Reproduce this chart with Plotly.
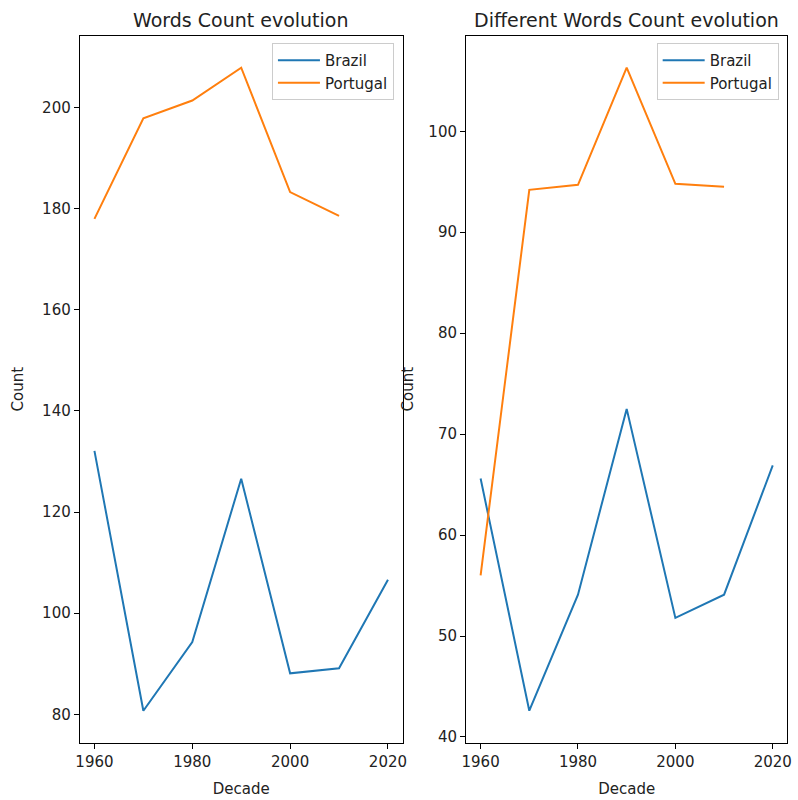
import plotly.graph_objects as go

# Decades on the x axis
decades = [1960, 1970, 1980, 1990, 2000, 2010, 2020]
decades_pt = [1960, 1970, 1980, 1990, 2000, 2010]

# Total words per decade
words_brazil = [132.1, 80.7, 94.3, 126.6, 88.1, 89.1, 106.6]
words_portugal = [178.0, 197.9, 201.4, 207.9, 183.3, 178.6]

# Distinct words per decade
diff_brazil = [65.6, 42.6, 54.1, 72.5, 51.8, 54.1, 66.9]
diff_portugal = [56.0, 94.2, 94.7, 106.3, 94.8, 94.5]

x_ticks = [1960, 1980, 2000, 2020]

BLUE = "#1f77b4"
ORANGE = "#ff7f0e"
FONT = "DejaVu Sans"
TXT = "#222222"

fig = go.Figure()

fig.add_trace(go.Scatter(x=decades, y=words_brazil, mode="lines", name="Brazil",
                         line=dict(color=BLUE, width=2), xaxis="x", yaxis="y",
                         legend="legend"))
fig.add_trace(go.Scatter(x=decades_pt, y=words_portugal, mode="lines", name="Portugal",
                         line=dict(color=ORANGE, width=2), xaxis="x", yaxis="y",
                         legend="legend"))
fig.add_trace(go.Scatter(x=decades, y=diff_brazil, mode="lines", name="Brazil",
                         line=dict(color=BLUE, width=2), xaxis="x2", yaxis="y2",
                         legend="legend2"))
fig.add_trace(go.Scatter(x=decades_pt, y=diff_portugal, mode="lines", name="Portugal",
                         line=dict(color=ORANGE, width=2), xaxis="x2", yaxis="y2",
                         legend="legend2"))


def pad_range(values, frac=0.05):
    lo, hi = min(values), max(values)
    m = (hi - lo) * frac
    return [lo - m, hi + m]


axis_style = dict(showline=True, linecolor="black", linewidth=1, mirror=True,
                  ticks="outside", ticklen=5, tickcolor="black", tickwidth=1,
                  showgrid=False, zeroline=False,
                  tickfont=dict(family=FONT, size=15, color=TXT))

title_font = dict(family=FONT, size=15, color=TXT)
legend_style = dict(xanchor="right", yanchor="top",
                    bgcolor="rgba(255,255,255,0.8)", bordercolor="#cccccc",
                    borderwidth=1, font=dict(family=FONT, size=15, color=TXT),
                    tracegroupgap=0, itemwidth=42)

left_dom = [0.0959, 0.5046]
right_dom = [0.5848, 0.9916]
yd = [0.0679, 0.9554]

fig.update_layout(
    width=798, height=800,
    margin=dict(l=0, r=0, t=0, b=0),
    paper_bgcolor="white", plot_bgcolor="white",
    font=dict(family=FONT, size=15, color=TXT),
    xaxis=dict(domain=left_dom, range=pad_range(decades), tickvals=x_ticks,
               anchor="y", title=dict(text="Decade", standoff=13, font=title_font),
               **axis_style),
    yaxis=dict(domain=yd, range=pad_range(words_brazil + words_portugal), dtick=20,
               anchor="x", title=dict(text="Count", standoff=14, font=title_font),
               **axis_style),
    xaxis2=dict(domain=right_dom, range=pad_range(decades), tickvals=x_ticks,
                anchor="y2", title=dict(text="Decade", standoff=13, font=title_font),
                **axis_style),
    yaxis2=dict(domain=yd, range=pad_range(diff_brazil + diff_portugal), dtick=10,
                anchor="x2", title=dict(text="Count", standoff=11, font=title_font),
                **axis_style),
    legend=dict(x=left_dom[1] - 0.011, y=0.946, **legend_style),
    legend2=dict(x=right_dom[1] - 0.011, y=0.946, **legend_style),
    annotations=[
        dict(text="Words Count evolution", x=sum(left_dom) / 2, y=1 - 20 / 800,
             xref="paper", yref="paper", showarrow=False,
             xanchor="center", yanchor="middle",
             font=dict(family=FONT, size=19, color=TXT)),
        dict(text="Different Words Count evolution", x=sum(right_dom) / 2,
             y=1 - 20 / 800, xref="paper", yref="paper", showarrow=False,
             xanchor="center", yanchor="middle",
             font=dict(family=FONT, size=19, color=TXT)),
    ],
)

fig.write_html("out.html")
